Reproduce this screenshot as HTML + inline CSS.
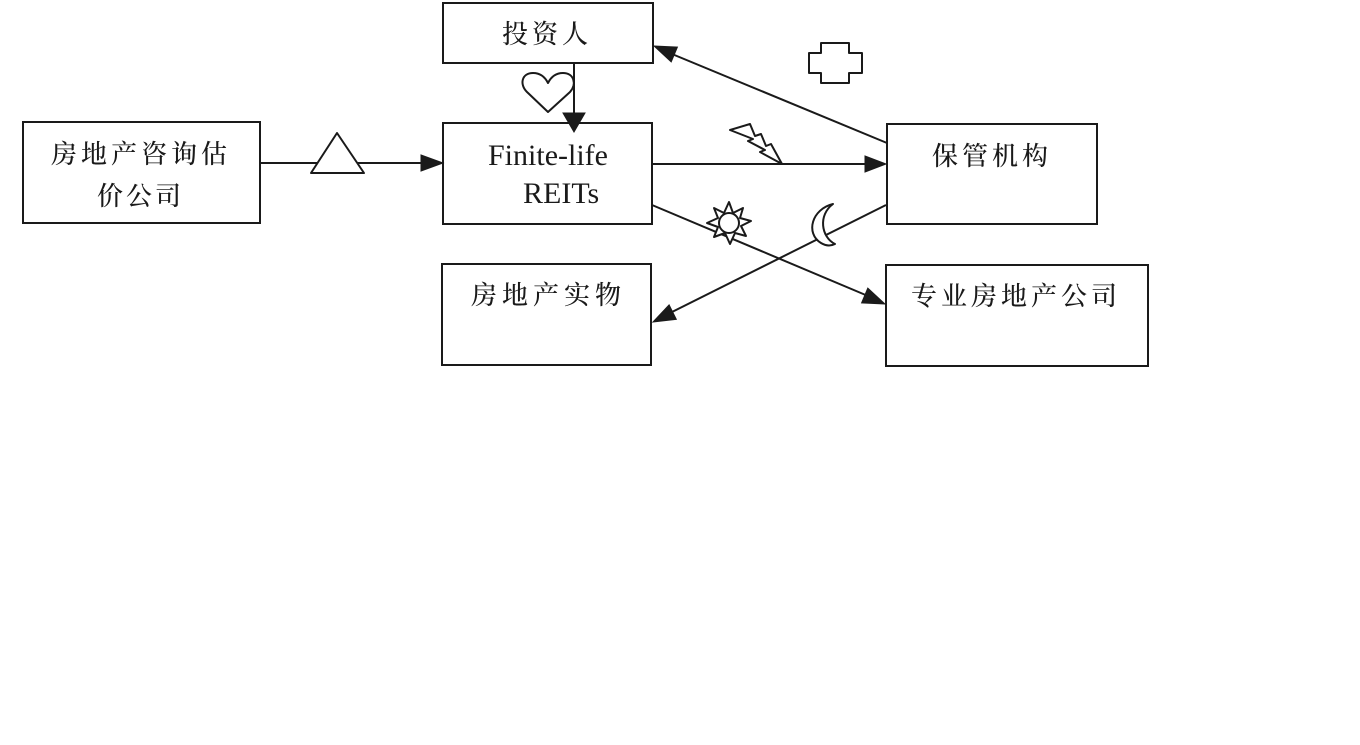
<!DOCTYPE html>
<html>
<head>
<meta charset="utf-8">
<style>
  html, body { margin: 0; padding: 0; background: #ffffff; }
  body { width: 1360px; height: 745px; overflow: hidden; }
  svg { display: block; }
  .cjk { font-family: "Liberation Serif", "Noto Serif CJK SC", "Noto Sans CJK SC", serif; font-size: 26px; font-weight: 500; fill: #1a1a1a; letter-spacing: 4px; }
  .lat { font-family: "Liberation Serif", serif; font-size: 30px; fill: #1a1a1a; }
</style>
</head>
<body>
<svg width="1360" height="745" viewBox="0 0 1360 745" xmlns="http://www.w3.org/2000/svg">
  <rect x="0" y="0" width="1360" height="745" fill="#ffffff"/>

  <g fill="none" stroke="#1a1a1a" stroke-width="2">
    <!-- boxes -->
    <rect x="443" y="3" width="210" height="60"/>
    <rect x="23" y="122" width="237" height="101"/>
    <rect x="443" y="123" width="209" height="101"/>
    <rect x="887" y="124" width="210" height="100"/>
    <rect x="442" y="264" width="209" height="101"/>
    <rect x="886" y="265" width="262" height="101"/>

    <!-- connectors -->
    <line x1="260" y1="163" x2="430" y2="163"/>
    <line x1="574" y1="63" x2="574" y2="118"/>
    <line x1="887" y1="143" x2="672" y2="54"/>
    <line x1="652" y1="164" x2="872" y2="164"/>
    <line x1="652" y1="205" x2="868" y2="296"/>
    <line x1="886" y1="205" x2="670" y2="313"/>
  </g>

  <!-- arrowheads -->
  <g fill="#1a1a1a" stroke="#1a1a1a" stroke-width="1">
    <polygon points="443,163 421,155 421,171"/>
    <polygon points="574,132 563,113 585,113"/>
    <polygon points="654,46 677.4,47.1 671.2,61.9"/>
    <polygon points="886,164 865,156 865,172"/>
    <polygon points="885,304 861.6,302.9 867.8,288.1"/>
    <polygon points="653,322 676.3,319.3 669.1,304.9"/>
  </g>

  <!-- symbols -->
  <g fill="#ffffff" stroke="#1a1a1a" stroke-width="2" stroke-linejoin="round">
    <!-- triangle -->
    <polygon points="311,173 337,133 364,173"/>
    <!-- heart -->
    <path d="M548,112 L527,92 C519,84 522,73 533,73 C540,73 545,77 548,83 C551,77 556,73 563,73 C574,73 577,84 570,92 Z"/>
    <!-- cross -->
    <path d="M821,43 L849,43 L849,53 L862,53 L862,73 L849,73 L849,83 L821,83 L821,73 L809,73 L809,53 L821,53 Z"/>
    <!-- lightning -->
    <polygon points="730,130 750,124 755,136 761,134 766,146 771,144 782,164 760,152 765,150 748,141 753,139"/>
    <!-- sun -->
    <polygon points="729,202 733,213 743,208 740,218 751,221 741,226 746,236 735,233 730,244 725,233 714,237 718,227 707,223 718,218 714,208 724,213"/>
    <circle cx="729" cy="223" r="10"/>
    <!-- moon -->
    <path d="M833,204 C812,209 805,233 821,243 C826,246 831,246 835,244 C821,237 818,215 833,204 Z"/>
  </g>

  <!-- labels -->
  <text class="cjk" x="502" y="43">投资人</text>
  <text class="cjk" x="51" y="163">房地产咨询估</text>
  <text class="cjk" x="97" y="205" style="letter-spacing:3px">价公司</text>
  <text class="lat" x="488" y="165">Finite-life</text>
  <text class="lat" x="523" y="203">REITs</text>
  <text class="cjk" x="932" y="165">保管机构</text>
  <text class="cjk" x="471" y="304" style="letter-spacing:5px">房地产实物</text>
  <text class="cjk" x="911" y="305">专业房地产公司</text>
</svg>
</body>
</html>
